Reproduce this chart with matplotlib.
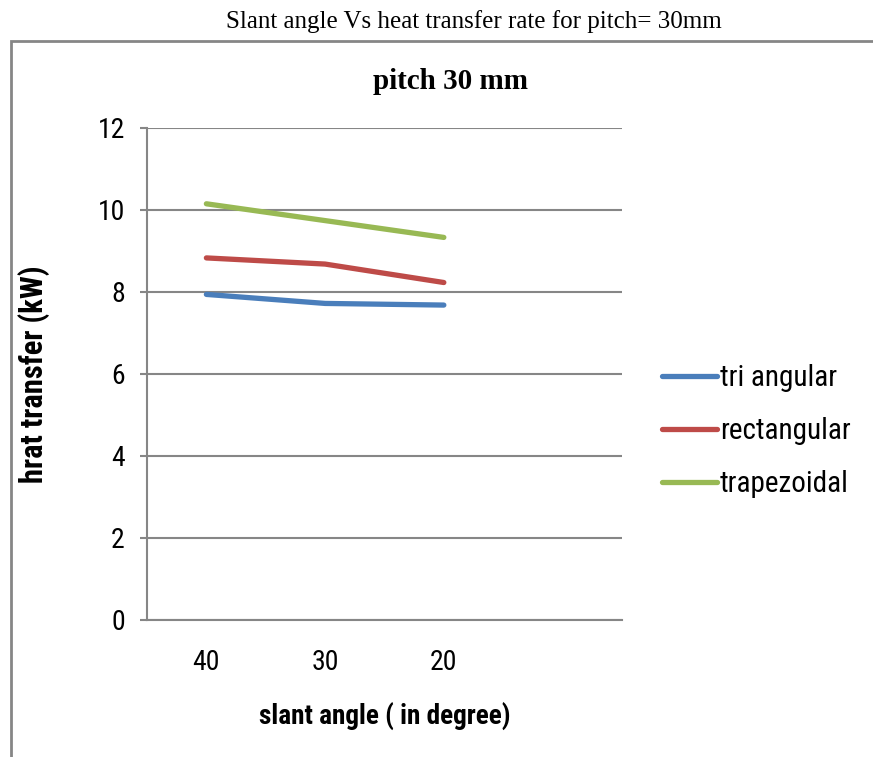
import numpy as np
import matplotlib.pyplot as plt
from matplotlib.patches import Rectangle

# ============ Data ============
angles = ['40', '30', '20', '']
tri_angular = [7.94, 7.72, 7.68]
rectangular = [8.83, 8.68, 8.23]
trapezoidal = [10.15, 9.74, 9.33]

sans = ['Roboto Condensed', 'Liberation Sans', 'DejaVu Sans']
serif = ['Liberation Serif', 'DejaVu Serif']
grey = '#868686'

fig = plt.figure(figsize=(8.73, 7.57), dpi=100)
ax = fig.add_axes([0.1684, 0.181, 0.544, 0.650])

x = np.arange(len(angles))
ax.plot(x[:3], tri_angular, color='#4a7ebb', lw=3.8, solid_capstyle='round', label='tri angular')
ax.plot(x[:3], rectangular, color='#be4b48', lw=3.8, solid_capstyle='round', label='rectangular')
ax.plot(x[:3], trapezoidal, color='#98b954', lw=3.8, solid_capstyle='round', label='trapezoidal')

ax.set_xlim(-0.5, 3.5)
ax.set_ylim(0, 12)
ax.set_yticks(range(0, 13, 2))
ax.set_xticks(x)
ax.set_xticklabels(angles)
ax.yaxis.grid(True, color=grey, lw=1.5)
ax.set_axisbelow(True)
for s in ['top', 'right']:
    ax.spines[s].set_visible(False)
ax.spines['left'].set_color(grey)
ax.spines['left'].set_linewidth(1.5)
ax.spines['bottom'].set_color(grey)
ax.spines['bottom'].set_linewidth(1.5)
ax.tick_params(axis='y', length=5, width=1.5, color=grey, pad=11, labelsize=20)
ax.tick_params(axis='x', length=0, pad=21, labelsize=20)
for lab in ax.get_xticklabels() + ax.get_yticklabels():
    lab.set_family(sans)

ax.set_ylabel('hrat transfer (kW)', family=sans, fontsize=22, fontweight='bold')
ax.set_xlabel('slant angle ( in degree)', family=sans, fontsize=19.6, fontweight='bold', va='top')
ax.yaxis.set_label_coords(-0.204, 0.5)
ax.xaxis.set_label_coords(0.501, -0.168)

leg = ax.legend(loc='center left', bbox_to_anchor=(1.084, 0.384), frameon=False,
                prop={'family': sans, 'size': 21}, handlelength=1.88,
                handletextpad=0.11, labelspacing=0.85, borderpad=0, borderaxespad=0)

# chart title and outer caption
fig.text(0.516, 0.892, 'pitch 30 mm', ha='center', va='center',
         family=serif, fontsize=21, fontweight='bold')
fig.text(0.543, 0.971, 'Slant angle Vs heat transfer rate for pitch= 30mm',
         ha='center', va='center', family=serif, fontsize=18)

# outer border of the chart frame
fig.patches.append(Rectangle((0.0125, -0.1), 1.1, 1.046, transform=fig.transFigure,
                             fill=False, edgecolor=grey, lw=2))

fig.savefig('out.png', dpi=100)
